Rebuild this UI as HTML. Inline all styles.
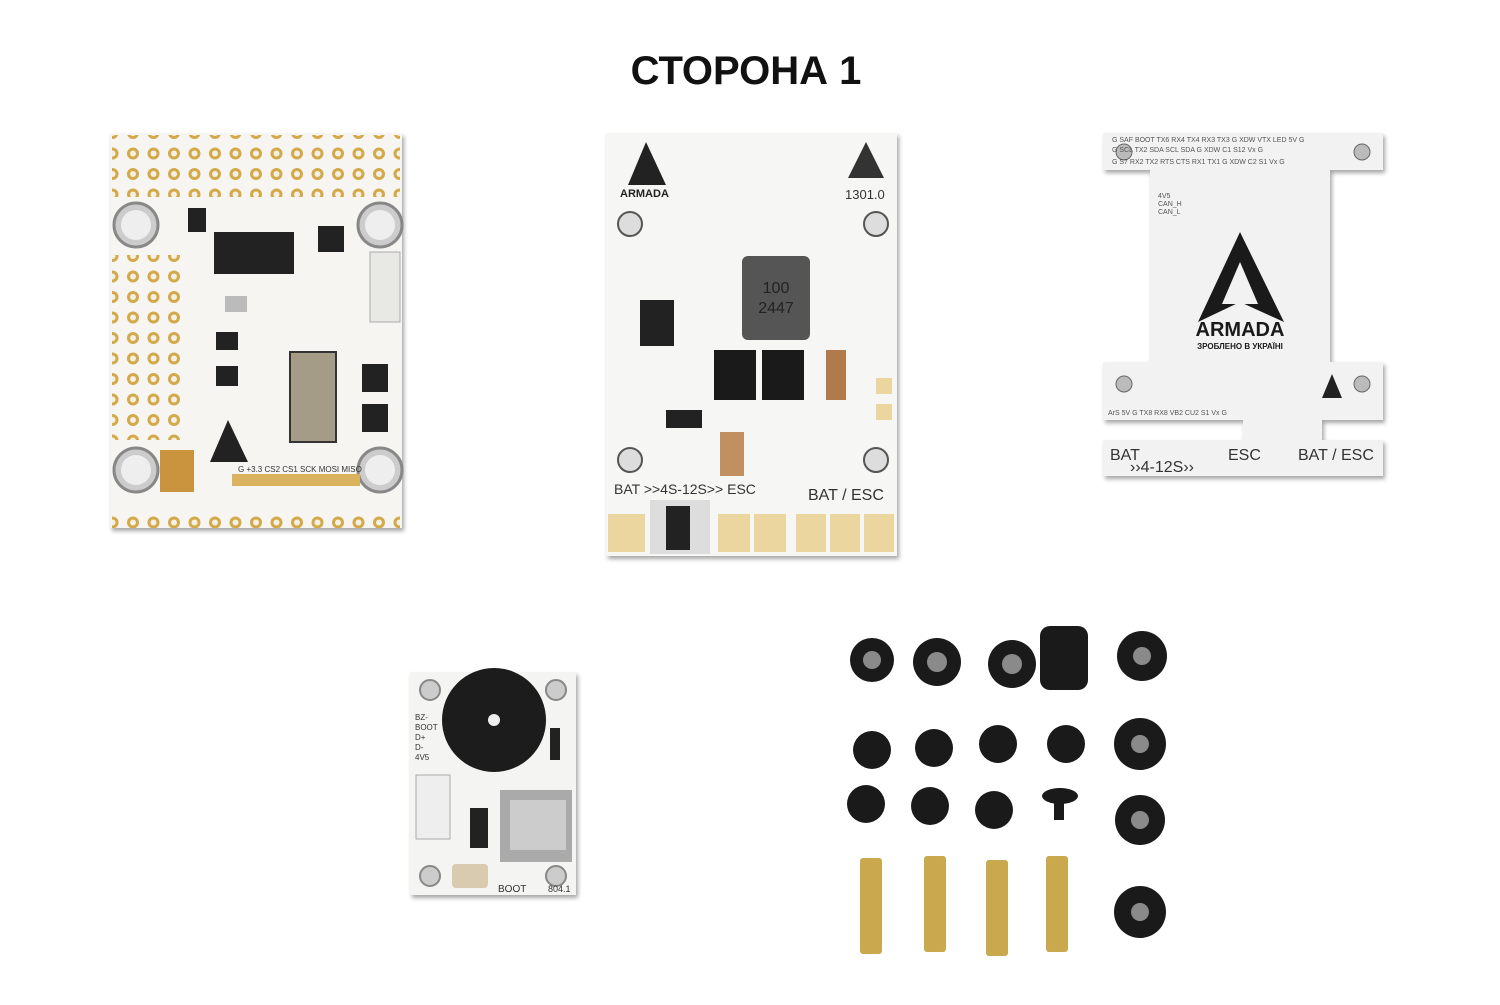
<!DOCTYPE html><html><head><style>body{margin:0;background:#fff;width:1500px;height:1000px;overflow:hidden}</style></head><body>
<svg width="1500" height="1000" xmlns="http://www.w3.org/2000/svg" font-family="Liberation Sans, sans-serif">
<text x="746" y="84" text-anchor="middle" font-size="40" font-weight="bold" fill="#111">СТОРОНА 1</text>
<defs>
<filter id="sh"><feDropShadow dx="2" dy="3" stdDeviation="2" flood-color="#000" flood-opacity="0.35"/></filter>
<pattern id="pads" width="20.5" height="20.5" patternUnits="userSpaceOnUse"><circle cx="10" cy="10" r="6" fill="#d4a94a"/><circle cx="10" cy="10" r="3" fill="#f4f0e6"/></pattern>
</defs>
<!-- Board 1 -->
<g filter="url(#sh)"><rect x="110" y="133" width="292" height="395" fill="#f6f5f2"/></g>
<rect x="112" y="135" width="288" height="62" fill="url(#pads)"/>
<rect x="112" y="255" width="68" height="185" fill="url(#pads)"/>
<rect x="112" y="508" width="288" height="20" fill="url(#pads)"/>
<circle cx="136" cy="225" r="22" fill="#ccc" stroke="#888" stroke-width="3"/><circle cx="136" cy="225" r="15" fill="#eee"/>
<circle cx="380" cy="225" r="22" fill="#ccc" stroke="#888" stroke-width="3"/><circle cx="380" cy="225" r="15" fill="#eee"/>
<circle cx="136" cy="470" r="22" fill="#ccc" stroke="#888" stroke-width="3"/><circle cx="136" cy="470" r="15" fill="#eee"/>
<circle cx="380" cy="470" r="22" fill="#ccc" stroke="#888" stroke-width="3"/><circle cx="380" cy="470" r="15" fill="#eee"/>
<rect x="214" y="232" width="80" height="42" fill="#222"/>
<rect x="318" y="226" width="26" height="26" fill="#222"/>
<rect x="188" y="208" width="18" height="24" fill="#222"/>
<rect x="370" y="252" width="30" height="70" fill="#e8e8e4" stroke="#aaa"/>
<rect x="225" y="296" width="22" height="16" fill="#bbb"/>
<rect x="290" y="352" width="46" height="90" fill="#a59c88" stroke="#333" stroke-width="2"/>
<rect x="362" y="364" width="26" height="28" fill="#222"/><rect x="362" y="404" width="26" height="28" fill="#222"/>
<rect x="216" y="332" width="22" height="18" fill="#222"/><rect x="216" y="366" width="22" height="20" fill="#222"/>
<rect x="160" y="450" width="34" height="42" fill="#c9943d"/>
<polygon points="228,420 210,462 248,462" fill="#222"/>
<rect x="232" y="474" width="128" height="12" fill="#d9b35d"/>
<text x="238" y="472" font-size="8" fill="#333">G +3.3 CS2 CS1 SCK MOSI MISO</text>
<!-- Board 2 -->
<g filter="url(#sh)"><rect x="606" y="133" width="291" height="423" fill="#f6f6f4"/></g>
<polygon points="646,142 628,185 666,185" fill="#222"/><text x="620" y="197" font-size="11" font-weight="bold" fill="#222">ARMADA</text>
<polygon points="866,142 848,178 884,178" fill="#333"/><text x="845" y="199" font-size="13" fill="#333">1301.0</text>
<circle cx="630" cy="224" r="12" fill="#ddd" stroke="#555" stroke-width="2"/><circle cx="876" cy="224" r="12" fill="#ddd" stroke="#555" stroke-width="2"/>
<circle cx="630" cy="460" r="12" fill="#ddd" stroke="#555" stroke-width="2"/><circle cx="876" cy="460" r="12" fill="#ddd" stroke="#555" stroke-width="2"/>
<rect x="742" y="256" width="68" height="84" rx="6" fill="#555"/><text x="776" y="293" font-size="16" fill="#222" text-anchor="middle">100</text><text x="776" y="313" font-size="16" fill="#222" text-anchor="middle">2447</text>
<rect x="640" y="300" width="34" height="46" fill="#222"/>
<rect x="714" y="350" width="42" height="50" fill="#1a1a1a"/><rect x="762" y="350" width="42" height="50" fill="#1a1a1a"/>
<rect x="826" y="350" width="20" height="50" fill="#b07a4a"/>
<rect x="666" y="410" width="36" height="18" fill="#222"/>
<rect x="720" y="432" width="24" height="44" fill="#c09060"/>
<text x="614" y="494" font-size="14" fill="#333">BAT &gt;&gt;4S-12S&gt;&gt; ESC</text><text x="808" y="500" font-size="16" fill="#333">BAT / ESC</text>
<rect x="608" y="514" width="37" height="38" fill="#ecd6a0"/><rect x="650" y="500" width="60" height="54" fill="#ddd"/><rect x="666" y="506" width="24" height="44" fill="#222"/>
<rect x="718" y="514" width="32" height="38" fill="#ecd6a0"/><rect x="754" y="514" width="32" height="38" fill="#ecd6a0"/>
<rect x="796" y="514" width="30" height="38" fill="#ecd6a0"/><rect x="830" y="514" width="30" height="38" fill="#ecd6a0"/><rect x="864" y="514" width="30" height="38" fill="#ecd6a0"/>
<rect x="876" y="378" width="16" height="16" fill="#ecd6a0"/><rect x="876" y="404" width="16" height="16" fill="#ecd6a0"/>
<!-- Board 3 -->
<g filter="url(#sh)"><path d="M1103,133 H1383 V170 H1330 V362 H1383 V420 H1322 V440 H1383 V476 H1103 V440 H1243 V420 H1103 V362 H1150 V170 H1103 Z" fill="#f2f2f2"/></g>
<circle cx="1124" cy="152" r="8" fill="#bbb" stroke="#666"/><circle cx="1362" cy="152" r="8" fill="#bbb" stroke="#666"/>
<circle cx="1124" cy="384" r="8" fill="#bbb" stroke="#666"/><circle cx="1362" cy="384" r="8" fill="#bbb" stroke="#666"/>
<text x="1112" y="142" font-size="7" fill="#555">G  SAF  BOOT TX6 RX4 TX4 RX3 TX3  G  XDW VTX  LED  5V  G</text>
<text x="1112" y="152" font-size="7" fill="#555">G  SCL  TX2 SDA SCL SDA  G  XDW C1  S12 Vx  G</text>
<text x="1112" y="164" font-size="7" fill="#555">G  S7  RX2 TX2 RTS CTS RX1 TX1  G  XDW C2  S1  Vx  G</text>
<path d="M1240,232 L1198,322 L1240,302 L1284,322 Z" fill="#1a1a1a"/><path d="M1240,262 L1222,304 L1258,304 Z" fill="#f2f2f2"/>
<text x="1240" y="336" font-size="20" font-weight="bold" fill="#1a1a1a" text-anchor="middle">ARMADA</text>
<text x="1240" y="349" font-size="8" font-weight="bold" fill="#1a1a1a" text-anchor="middle">ЗРОБЛЕНО В УКРАЇНІ</text>
<text x="1158" y="198" font-size="7" fill="#555">4V5</text><text x="1158" y="206" font-size="7" fill="#555">CAN_H</text><text x="1158" y="214" font-size="7" fill="#555">CAN_L</text>
<polygon points="1332,374 1322,398 1342,398" fill="#222"/>
<text x="1108" y="415" font-size="7" fill="#555">ArS 5V  G  TX8 RX8 VB2 CU2            S1  Vx  G</text>
<text x="1110" y="460" font-size="16" fill="#333">BAT</text><text x="1130" y="472" font-size="16" fill="#333">››4-12S››</text><text x="1228" y="460" font-size="16" fill="#333">ESC</text><text x="1298" y="460" font-size="16" fill="#333">BAT / ESC</text>
<!-- Board 4 -->
<g filter="url(#sh)"><rect x="410" y="672" width="166" height="223" fill="#f4f4f2"/></g>
<circle cx="430" cy="690" r="10" fill="#ccc" stroke="#888" stroke-width="2"/><circle cx="556" cy="690" r="10" fill="#ccc" stroke="#888" stroke-width="2"/>
<circle cx="430" cy="876" r="10" fill="#ccc" stroke="#888" stroke-width="2"/><circle cx="556" cy="876" r="10" fill="#ccc" stroke="#888" stroke-width="2"/>
<circle cx="494" cy="720" r="52" fill="#1c1c1c"/><circle cx="494" cy="720" r="6" fill="#eee"/>
<rect x="416" y="775" width="34" height="64" fill="#eee" stroke="#aaa"/>
<rect x="500" y="790" width="72" height="72" fill="#aaa"/><rect x="510" y="800" width="56" height="50" fill="#ccc"/>
<rect x="470" y="808" width="18" height="40" fill="#222"/>
<rect x="452" y="864" width="36" height="24" rx="4" fill="#d8cbb0"/>
<text x="498" y="892" font-size="10" fill="#333">BOOT</text><text x="548" y="892" font-size="9" fill="#333">804.1</text>
<text x="415" y="720" font-size="8" fill="#333">BZ-</text><text x="415" y="730" font-size="8" fill="#333">BOOT</text><text x="415" y="740" font-size="8" fill="#333">D+</text><text x="415" y="750" font-size="8" fill="#333">D-</text><text x="415" y="760" font-size="8" fill="#333">4V5</text>
<rect x="550" y="728" width="10" height="32" fill="#222"/>
<!-- hardware -->
<g fill="#1a1a1a">
<circle cx="872" cy="660" r="22"/><circle cx="937" cy="662" r="24"/><circle cx="1012" cy="664" r="24"/><rect x="1040" y="626" width="48" height="64" rx="10"/><circle cx="1142" cy="656" r="25"/>
<circle cx="872" cy="750" r="19"/><circle cx="934" cy="748" r="19"/><circle cx="998" cy="744" r="19"/><circle cx="1066" cy="744" r="19"/><circle cx="1140" cy="744" r="26"/>
<circle cx="866" cy="804" r="19"/><circle cx="930" cy="806" r="19"/><circle cx="994" cy="810" r="19"/><rect x="1054" y="790" width="10" height="30"/><ellipse cx="1060" cy="796" rx="18" ry="8"/><circle cx="1140" cy="820" r="25"/>
<circle cx="1140" cy="912" r="26"/>
</g>
<g fill="#8a8a8a"><circle cx="1142" cy="656" r="9"/><circle cx="1140" cy="744" r="9"/><circle cx="1140" cy="820" r="9"/><circle cx="1140" cy="912" r="9"/><circle cx="872" cy="660" r="9"/><circle cx="937" cy="662" r="10"/><circle cx="1012" cy="664" r="10"/></g>
<g fill="#c9a84e"><rect x="860" y="858" width="22" height="96" rx="3"/><rect x="924" y="856" width="22" height="96" rx="3"/><rect x="986" y="860" width="22" height="96" rx="3"/><rect x="1046" y="856" width="22" height="96" rx="3"/></g>
</svg></body></html>
